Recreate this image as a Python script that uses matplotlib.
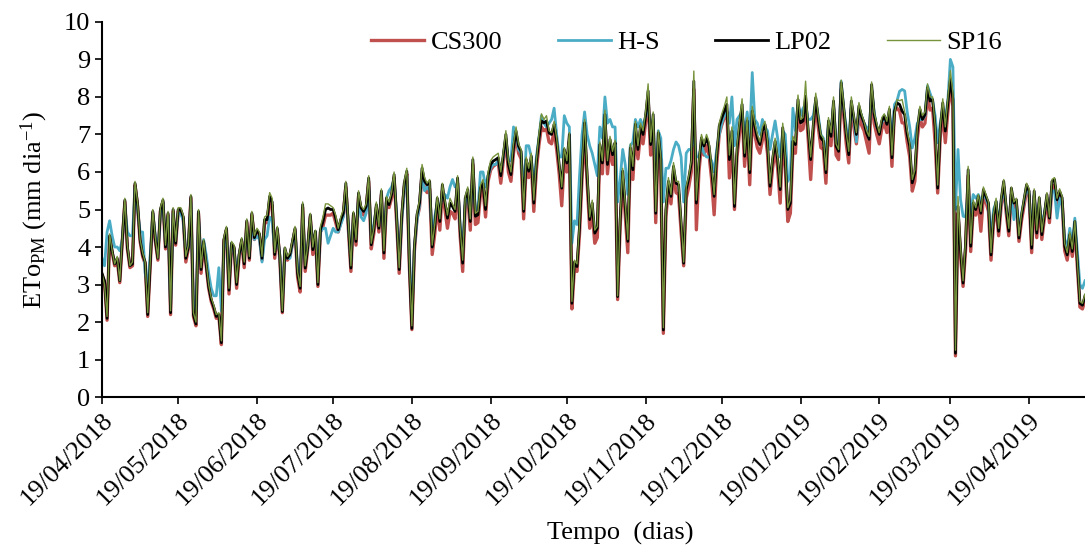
import matplotlib
matplotlib.use("Agg")
import matplotlib.pyplot as plt
import matplotlib.dates as mdates
import numpy as np
import pandas as pd

plt.rcParams['font.family'] = ['Liberation Serif', 'DejaVu Serif']
plt.rcParams['mathtext.fontset'] = 'custom'
plt.rcParams['mathtext.rm'] = 'Liberation Serif'
plt.rcParams['mathtext.it'] = 'Liberation Serif:italic'

start_date = '2018-04-19'

# daily ETo values (mm dia-1), 19/04/2018 .. 11/05/2019
lp02 = [
    3.3, 3.1, 2.1, 4.3, 3.9, 3.55, 3.7, 3.1, 4.2, 5.25,
    4.0, 3.5, 3.55, 5.7, 5.15, 4.2, 3.8, 3.6, 2.2, 3.6,
    4.95, 4.2, 3.7, 5.0, 5.25, 4.0, 4.9, 2.25, 5.0, 4.1,
    5.0, 5.0, 4.8, 3.7, 4.0, 5.35, 2.2, 1.95, 4.95, 3.4,
    4.15, 3.55, 2.95, 2.6, 2.4, 2.15, 2.2, 1.45, 4.2, 4.5,
    2.85, 4.1, 4.0, 3.0, 3.8, 4.2, 3.55, 4.7, 3.7, 4.9,
    4.25, 4.45, 4.35, 3.7, 4.73, 4.73, 5.35, 5.2, 3.8, 4.5,
    3.75, 2.28, 3.97, 3.7, 3.8, 4.15, 4.5, 3.3, 2.9, 5.13,
    3.44, 4.0, 4.86, 3.93, 4.42, 3.0, 4.46, 4.68, 5.0, 5.04,
    5.0, 5.0, 4.77, 4.46, 4.73, 4.9, 5.7, 4.55, 3.44, 4.9,
    4.15, 5.44, 5.04, 4.95, 5.08, 5.84, 4.06, 4.46, 5.13, 4.5,
    5.49, 3.84, 5.3, 5.13, 5.4, 5.93, 4.77, 3.4, 4.82, 5.7,
    6.02, 3.57, 1.83, 4.0, 4.86, 5.17, 6.1, 5.75, 5.66, 5.75,
    4.0, 4.55, 5.3, 4.68, 5.66, 5.2, 4.77, 5.17, 5.08, 4.95,
    5.84, 4.46, 3.57, 5.3, 5.53, 4.68, 6.33, 4.82, 4.86, 5.57,
    5.7, 5.0, 5.9, 6.2, 6.29, 6.33, 6.38, 5.9, 6.45, 7.0,
    6.2, 5.93, 6.64, 7.09, 6.69, 6.55, 4.95, 6.33, 6.02, 6.42,
    5.17, 6.24, 6.87, 7.36, 7.31, 7.36, 7.04, 7.0, 7.27, 6.82,
    6.2, 5.57, 6.6, 6.24, 7.0, 2.5, 3.6, 3.48, 4.55, 6.06,
    7.31, 5.9, 4.73, 5.17, 4.37, 4.5, 6.73, 6.24, 7.53, 6.2,
    6.87, 6.46, 6.78, 2.68, 4.73, 6.02, 5.08, 4.15, 6.64, 6.06,
    7.27, 6.6, 7.22, 7.0, 7.49, 8.16, 6.73, 7.53, 4.9, 7.04,
    6.33, 1.79, 5.0, 5.75, 5.35, 6.15, 5.7, 5.66, 4.64, 3.57,
    5.53, 5.84, 6.24, 8.42, 5.17, 6.24, 6.91, 6.69, 6.91, 6.69,
    6.06, 5.35, 6.42, 7.22, 7.44, 7.62, 7.8, 6.33, 7.09, 5.08,
    6.6, 7.27, 7.8, 6.42, 7.36, 5.98, 7.62, 7.22, 6.9, 6.73,
    7.09, 7.27, 6.78, 5.62, 6.33, 6.82, 6.33, 5.53, 7.18, 6.33,
    5.0, 5.17, 6.82, 6.73, 7.93, 7.31, 7.36, 8.02, 7.13, 6.33,
    7.22, 7.98, 7.4, 6.91, 6.82, 5.98, 7.36, 6.95, 7.89, 6.69,
    6.55, 8.38, 7.71, 7.0, 6.46, 7.89, 7.44, 7.0, 7.76, 7.49,
    7.31, 7.04, 6.87, 8.33, 7.53, 7.22, 7.0, 7.36, 7.49, 7.27,
    7.67, 6.38, 7.62, 7.84, 7.8, 7.62, 7.53, 7.0, 6.69, 5.71,
    5.98, 7.13, 7.67, 7.4, 7.53, 8.25, 7.89, 7.93, 7.18, 5.57,
    7.13, 7.84, 7.09, 7.84, 8.47, 7.93, 1.17, 5.08, 3.93, 3.04,
    4.1, 6.06, 4.02, 5.17, 5.0, 5.35, 4.9, 5.53, 5.35, 5.17,
    3.79, 4.82, 5.22, 4.42, 5.26, 5.75, 5.04, 4.42, 5.57, 5.17,
    5.26, 4.24, 4.82, 5.26, 5.66, 5.49, 3.97, 5.49, 4.37, 5.31,
    4.33, 4.86, 5.4, 4.77, 5.75, 5.8, 5.26, 5.49, 5.31, 4.02,
    3.79, 4.33, 3.88, 4.68, 3.57, 2.5, 2.45, 2.7,
]

cs300 = [
    3.25, 3.05, 2.05, 4.25, 3.85, 3.5, 3.65, 3.05, 4.15, 5.2,
    3.95, 3.45, 3.5, 5.65, 5.1, 4.15, 3.75, 3.55, 2.15, 3.55,
    4.9, 4.15, 3.65, 4.95, 5.2, 3.95, 4.85, 2.2, 4.95, 4.05,
    4.95, 4.95, 4.75, 3.6, 3.95, 5.3, 2.15, 1.9, 4.9, 3.3,
    4.1, 3.5, 2.9, 2.55, 2.35, 2.1, 2.15, 1.4, 4.15, 4.45,
    2.75, 4.05, 3.95, 2.9, 3.75, 4.15, 3.45, 4.65, 3.65, 4.85,
    4.2, 4.4, 4.3, 3.65, 4.65, 4.65, 5.2, 5.1, 3.7, 4.45,
    3.7, 2.25, 3.9, 3.65, 3.75, 4.1, 4.45, 3.2, 2.8, 5.05,
    3.35, 3.95, 4.8, 3.8, 4.35, 2.95, 4.4, 4.55, 4.85, 4.85,
    4.85, 4.9, 4.65, 4.4, 4.65, 4.85, 5.6, 4.45, 3.35, 4.85,
    4.05, 5.35, 4.95, 4.85, 5.0, 5.75, 3.95, 4.35, 5.05, 4.4,
    5.4, 3.7, 5.2, 5.05, 5.3, 5.85, 4.65, 3.3, 4.75, 5.6,
    5.95, 3.5, 1.8, 3.9, 4.75, 5.05, 5.95, 5.55, 5.45, 5.55,
    3.8, 4.35, 5.1, 4.45, 5.5, 5.0, 4.5, 4.95, 4.9, 4.75,
    5.7, 4.3, 3.35, 5.1, 5.35, 4.45, 6.2, 4.6, 4.65, 5.4,
    5.55, 4.8, 5.75, 6.05, 6.15, 6.2, 6.25, 5.7, 6.3, 6.85,
    6.0, 5.75, 6.5, 6.95, 6.5, 6.35, 4.75, 6.15, 5.85, 6.25,
    4.95, 6.05, 6.7, 7.2, 7.1, 7.15, 6.8, 6.75, 7.1, 6.6,
    5.95, 5.1, 6.35, 6.0, 6.8, 2.35, 3.45, 3.35, 4.35, 5.85,
    7.1, 5.7, 4.5, 4.9, 4.1, 4.25, 6.5, 5.95, 7.35, 5.95,
    6.65, 6.2, 6.55, 2.6, 4.55, 5.8, 4.85, 3.85, 6.4, 5.8,
    7.05, 6.35, 7.0, 6.75, 7.3, 7.95, 6.45, 7.3, 4.65, 6.8,
    6.05, 1.7, 4.8, 5.55, 5.15, 5.95, 5.45, 5.4, 4.4, 3.5,
    5.3, 5.6, 6.0, 8.2, 4.46, 6.0, 6.7, 6.45, 6.7, 6.45,
    5.8, 4.86, 6.2, 7.0, 7.25, 7.45, 7.6, 5.84, 6.9, 5.0,
    6.4, 7.05, 7.6, 6.15, 7.15, 5.66, 7.4, 7.0, 6.65, 6.5,
    6.85, 7.05, 6.5, 5.4, 6.1, 6.6, 6.1, 5.17, 6.95, 6.1,
    4.68, 4.9, 6.6, 6.5, 7.75, 7.1, 7.15, 7.85, 6.9, 5.8,
    7.0, 7.8, 7.2, 6.65, 6.6, 5.7, 7.15, 6.7, 7.7, 6.45,
    6.33, 8.2, 7.5, 6.75, 6.24, 7.7, 7.2, 6.75, 7.55, 7.25,
    7.1, 6.8, 6.5, 8.15, 7.3, 7.0, 6.75, 7.15, 7.3, 7.05,
    7.45, 6.15, 7.62, 7.7, 7.62, 7.31, 7.3, 6.8, 6.4, 5.49,
    5.75, 6.9, 7.45, 7.2, 7.3, 8.05, 7.65, 7.7, 6.78, 5.44,
    6.9, 7.6, 6.78, 7.6, 8.3, 7.75, 1.1, 4.9, 3.75, 2.95,
    3.95, 5.9, 3.88, 5.0, 4.85, 5.2, 4.42, 5.35, 5.2, 4.95,
    3.65, 4.65, 5.05, 4.3, 5.1, 5.6, 4.9, 4.3, 5.4, 5.05,
    5.1, 4.15, 4.7, 5.1, 5.5, 5.35, 3.85, 5.35, 4.25, 5.15,
    4.2, 4.75, 5.25, 4.65, 5.6, 5.65, 5.1, 5.35, 5.2, 3.9,
    3.65, 4.2, 3.75, 4.55, 3.45, 2.4, 2.35, 2.6,
]

hs = [
    3.7, 3.5, 4.4, 4.7, 4.3, 4.0, 4.0, 3.9, 4.2, 5.1,
    4.4, 4.3, 4.3, 5.6, 5.0, 4.4, 4.4, 3.3, 3.0, 3.8,
    4.9, 4.3, 3.8, 4.9, 5.2, 4.1, 4.8, 2.4, 4.9, 4.2,
    4.9, 4.9, 4.7, 3.8, 4.0, 5.2, 2.4, 2.3, 4.8, 3.6,
    4.2, 3.8, 3.3, 2.9, 2.7, 2.7, 3.45, 2.3, 4.0, 4.3,
    3.1, 4.1, 3.9, 3.3, 3.8, 4.1, 3.7, 4.5, 3.8, 4.6,
    4.2, 4.3, 4.2, 3.6, 4.2, 4.3, 4.8, 4.7, 3.9, 4.3,
    3.8, 2.5, 3.9, 3.7, 3.7, 4.1, 4.4, 3.5, 3.1, 4.9,
    3.6, 4.0, 4.7, 4.0, 4.4, 3.3, 4.4, 4.5, 4.5, 4.1,
    4.3, 4.5, 4.4, 4.4, 4.6, 4.8, 5.5, 4.6, 3.6, 4.8,
    4.3, 5.3, 4.8, 4.7, 4.9, 5.6, 4.3, 4.6, 5.0, 4.6,
    5.3, 4.1, 5.3, 5.5, 5.6, 5.8, 4.9, 3.6, 4.7, 5.5,
    5.9, 3.8, 2.2, 4.0, 4.7, 5.1, 5.9, 5.5, 5.6, 5.5,
    4.3, 4.8, 5.2, 5.0, 5.4, 5.4, 5.3, 5.6, 5.8, 5.6,
    5.7, 4.6, 3.9, 5.2, 5.4, 4.8, 6.0, 5.0, 5.0, 6.0,
    6.0, 5.6, 5.9, 6.1, 6.2, 6.2, 6.3, 6.0, 6.4, 6.9,
    6.3, 6.3, 7.2, 7.0, 6.6, 6.5, 5.3, 6.7, 6.7, 6.4,
    5.6, 6.4, 6.9, 7.5, 7.3, 7.2, 7.3, 7.4, 7.7, 7.0,
    6.4, 6.4, 7.5, 7.3, 7.2, 4.1, 4.7, 4.6, 5.9, 7.0,
    7.6, 7.0, 6.7, 6.5, 6.2, 5.9, 7.2, 6.9, 8.0, 7.3,
    7.4, 7.2, 7.2, 5.2, 5.8, 6.6, 6.2, 5.4, 6.7, 6.8,
    7.4, 7.2, 7.4, 7.2, 7.5, 7.7, 7.1, 7.4, 5.4, 7.1,
    6.9, 5.2, 6.1, 6.1, 6.3, 6.6, 6.8, 6.7, 6.4, 5.2,
    6.5, 6.6, 6.6, 7.0, 6.4, 6.4, 6.7, 6.5, 6.4, 6.4,
    6.3, 6.0, 6.6, 7.0, 7.3, 7.5, 7.6, 7.3, 8.0, 6.7,
    7.4, 7.5, 7.6, 7.0, 7.6, 6.9, 8.65, 7.4, 7.3, 7.0,
    7.4, 7.2, 7.1, 6.6, 7.0, 7.36, 6.9, 6.4, 7.1, 7.0,
    5.75, 5.9, 7.7, 7.1, 7.8, 7.5, 7.7, 7.8, 7.4, 7.4,
    7.5, 7.9, 7.5, 7.0, 6.9, 6.4, 7.3, 7.0, 7.8, 6.8,
    6.7, 8.42, 7.7, 7.2, 6.8, 7.8, 7.4, 6.8, 7.7, 7.5,
    7.3, 7.2, 7.0, 8.2, 7.6, 7.2, 7.1, 7.3, 7.5, 7.3,
    7.6, 6.9, 7.8, 7.9, 8.15, 8.2, 8.16, 7.6, 7.2, 6.64,
    6.9, 7.3, 7.4, 7.4, 7.5, 8.3, 8.1, 7.9, 7.5, 6.78,
    7.3, 7.7, 7.4, 7.9, 9.0, 8.8, 5.0, 6.6, 5.26, 4.82,
    4.8, 5.5, 4.9, 5.4, 5.3, 5.4, 5.2, 5.4, 5.3, 5.1,
    4.2, 5.0, 5.2, 4.6, 5.2, 5.6, 5.0, 4.6, 5.4, 4.73,
    5.1, 4.5, 4.9, 5.2, 5.6, 5.4, 4.3, 5.4, 4.6, 5.2,
    4.6, 4.9, 5.3, 4.9, 5.5, 5.5, 4.77, 5.3, 5.1, 4.2,
    4.0, 4.5, 4.1, 4.77, 3.9, 3.0, 2.9, 3.1,
]

sp16 = [
    3.3, 3.0, 2.15, 4.35, 3.9, 3.55, 3.75, 3.1, 4.25, 5.3,
    4.05, 3.5, 3.6, 5.75, 5.2, 4.2, 3.85, 3.6, 2.25, 3.65,
    5.0, 4.25, 3.7, 5.05, 5.3, 4.05, 4.95, 2.3, 5.05, 4.15,
    5.05, 5.05, 4.85, 3.75, 4.05, 5.4, 2.25, 2.0, 5.0, 3.45,
    4.2, 3.6, 3.0, 2.65, 2.45, 2.2, 2.25, 1.5, 4.25, 4.55,
    2.9, 4.15, 4.05, 3.05, 3.85, 4.25, 3.6, 4.75, 3.75, 4.95,
    4.3, 4.5, 4.4, 3.75, 4.8, 4.85, 5.45, 5.3, 3.85, 4.55,
    3.8, 2.3, 4.0, 3.75, 3.85, 4.2, 4.55, 3.35, 2.95, 5.2,
    3.5, 4.05, 4.9, 4.0, 4.45, 3.05, 4.55, 4.8, 5.15, 5.15,
    5.1, 5.05, 4.85, 4.5, 4.8, 5.0, 5.75, 4.6, 3.5, 4.95,
    4.2, 5.5, 5.1, 5.0, 5.15, 5.9, 4.1, 4.5, 5.2, 4.55,
    5.55, 3.9, 5.35, 5.2, 5.45, 6.0, 4.8, 3.45, 4.9, 5.75,
    6.1, 3.6, 1.9, 4.05, 4.9, 5.25, 6.2, 5.85, 5.7, 5.8,
    4.05, 4.6, 5.35, 4.75, 5.7, 5.25, 4.85, 5.3, 5.15, 5.0,
    5.9, 4.5, 3.65, 5.35, 5.6, 4.75, 6.4, 4.9, 4.95, 5.65,
    5.8, 5.1, 6.0, 6.3, 6.4, 6.45, 6.5, 6.0, 6.55, 7.1,
    6.3, 6.0, 6.75, 7.2, 6.75, 6.6, 5.0, 6.4, 6.1, 6.5,
    5.25, 6.3, 7.0, 7.55, 7.4, 7.5, 7.1, 7.05, 7.35, 6.9,
    6.25, 5.6, 6.65, 6.3, 7.05, 2.55, 3.65, 3.55, 4.6, 6.15,
    7.4, 6.0, 4.8, 5.25, 4.45, 4.55, 6.8, 6.3, 7.65, 6.3,
    6.95, 6.55, 6.85, 2.7, 4.8, 6.1, 5.15, 4.2, 6.75, 6.15,
    7.35, 6.7, 7.3, 7.1, 7.6, 8.35, 6.8, 7.6, 4.95, 7.1,
    6.4, 1.85, 5.05, 5.85, 5.4, 6.25, 5.75, 5.75, 4.7, 3.6,
    5.6, 5.9, 6.3, 8.69, 5.25, 6.3, 7.0, 6.75, 7.0, 6.8,
    6.15, 5.4, 6.5, 7.3, 7.55, 7.75, 8.0, 6.45, 7.2, 5.15,
    6.7, 7.35, 7.95, 6.5, 7.45, 6.05, 7.75, 7.3, 7.0, 6.8,
    7.2, 7.35, 6.85, 5.7, 6.4, 6.9, 6.4, 5.6, 7.3, 6.4,
    5.05, 5.25, 6.95, 6.8, 8.05, 7.4, 7.45, 8.42, 7.2, 6.4,
    7.3, 8.1, 7.5, 7.0, 6.9, 6.05, 7.45, 7.05, 8.0, 6.75,
    6.6, 8.45, 7.8, 7.05, 6.55, 8.0, 7.5, 7.05, 7.85, 7.55,
    7.35, 7.1, 6.95, 8.4, 7.6, 7.3, 7.05, 7.45, 7.55, 7.35,
    7.75, 6.45, 7.55, 7.93, 7.9, 7.93, 7.6, 7.1, 6.75, 5.8,
    6.05, 7.2, 7.75, 7.5, 7.6, 8.35, 8.0, 8.0, 7.25, 5.65,
    7.2, 7.95, 7.2, 7.95, 8.7, 8.1, 1.25, 5.35, 4.0, 3.1,
    4.2, 6.15, 4.1, 5.25, 5.05, 5.4, 4.95, 5.6, 5.4, 5.2,
    3.85, 4.9, 5.3, 4.5, 5.3, 5.8, 5.1, 4.5, 5.6, 5.2,
    5.3, 4.3, 4.9, 5.3, 5.7, 5.55, 4.05, 5.55, 4.45, 5.35,
    4.4, 4.9, 5.45, 4.8, 5.8, 5.85, 5.3, 5.55, 5.35, 4.1,
    3.85, 4.4, 3.95, 4.7, 3.6, 2.55, 2.5, 2.75,
]

series_names = ['CS300', 'H-S', 'LP02', 'SP16']
series_colors = ['#C0504D', '#4BACC6', '#000000', '#77933C']
series_widths = [2.4, 2.0, 2.0, 1.0]

dates = pd.date_range(start_date, periods=len(lp02), freq='D')
# ticks on the 19th of every month, 19/04/2018 .. 19/04/2019
tick_dates = pd.date_range('2018-04-01', '2019-04-01', freq='MS') + pd.Timedelta(days=18)

fig = plt.figure(figsize=(10.85, 5.47), dpi=100)
ax = fig.add_axes([0.094, 0.274, 0.906, 0.686])

for name, vals, c, lw in zip(series_names, [cs300, hs, lp02, sp16],
                             series_colors, series_widths):
    ax.plot(dates, vals, color=c, lw=lw, label=name, solid_joinstyle='round')

ax.set_ylim(0, 10)
ax.set_yticks(range(0, 11))
ax.set_xlim(dates[0], dates[-1])
ax.set_xticks(tick_dates)
ax.xaxis.set_major_formatter(mdates.DateFormatter('%d/%m/%Y'))
ax.tick_params(axis='both', labelsize=19, direction='out', length=5, width=1.2)
for lbl in ax.get_xticklabels():
    lbl.set_rotation(45)
    lbl.set_ha('right')
    lbl.set_rotation_mode('anchor')

for side in ['top', 'right']:
    ax.spines[side].set_visible(False)
for side in ['left', 'bottom']:
    ax.spines[side].set_linewidth(1.5)

ax.set_ylabel(r'ETo$_{\mathrm{PM}}$ (mm dia$^{-1}$)', fontsize=19, labelpad=10)
fig.text(0.572, 0.025, 'Tempo  (dias)', fontsize=19, ha='center', va='center')

fig.legend(loc='center', bbox_to_anchor=(0.633, 0.923), ncol=4, frameon=False,
           fontsize=19, handlelength=2.0, handletextpad=0.25, columnspacing=2.1)

fig.savefig('out.png', dpi=100)
